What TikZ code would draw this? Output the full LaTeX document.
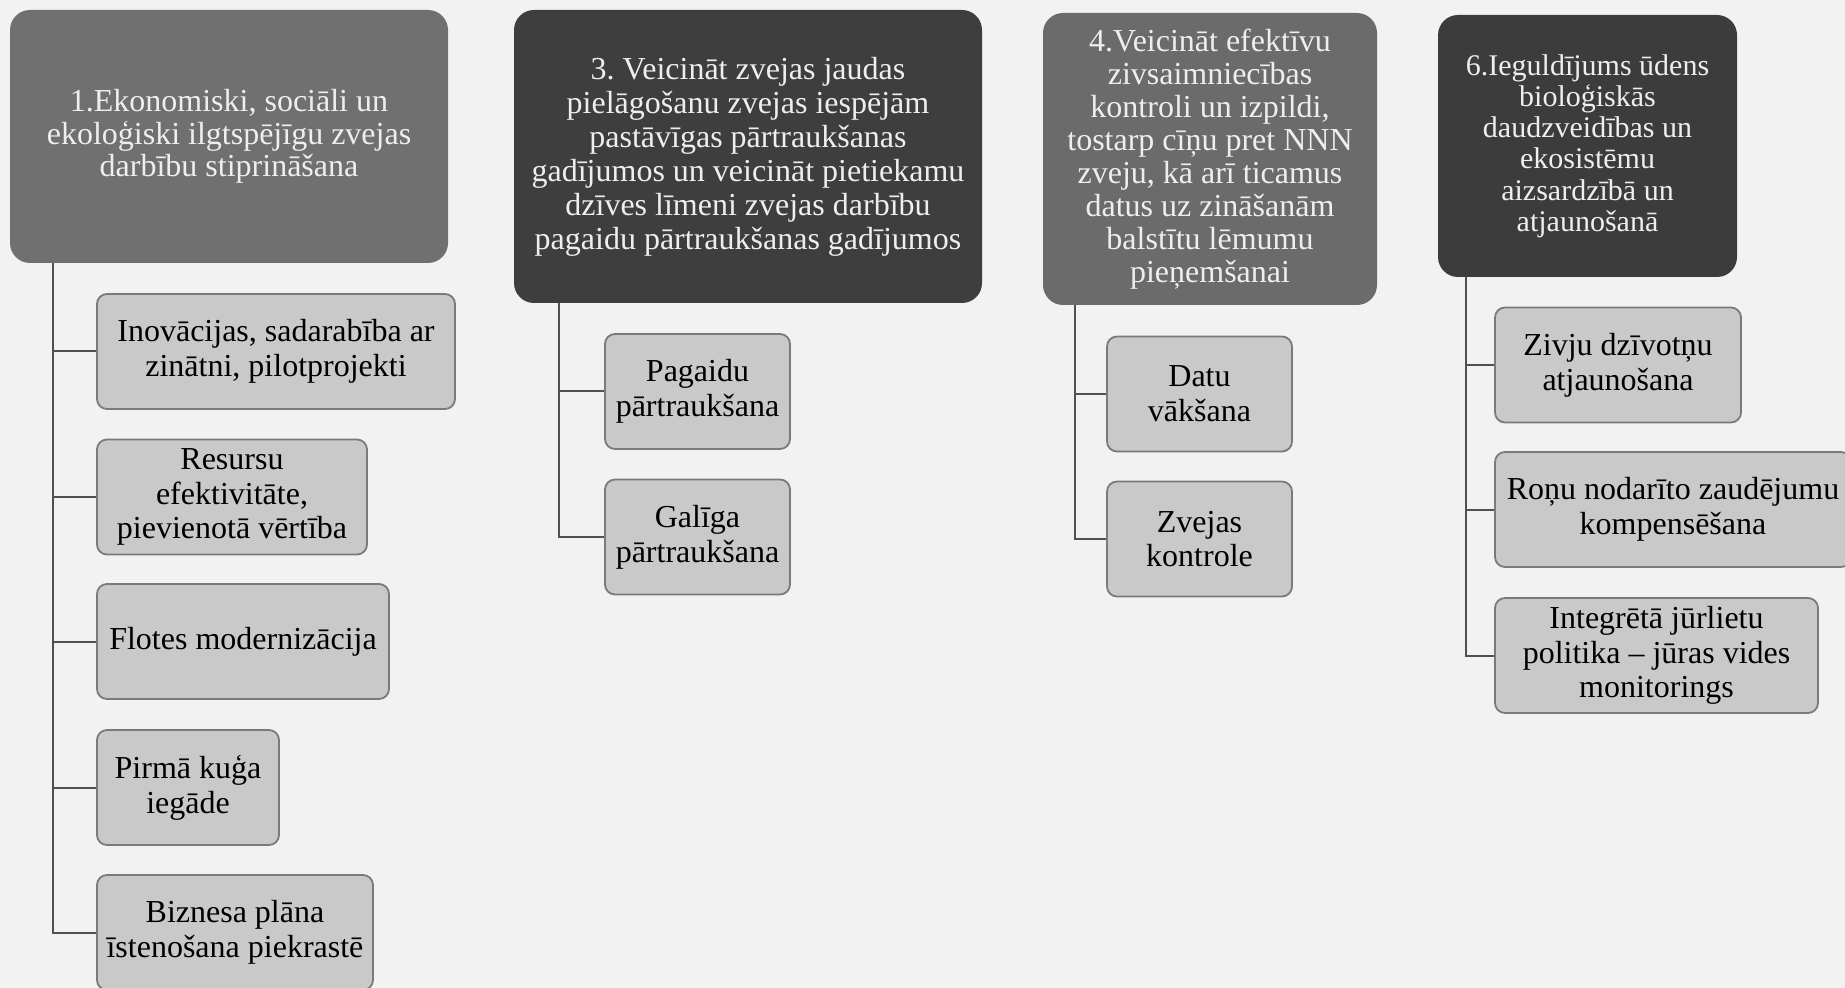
\documentclass[tikz,border=0pt]{standalone}
\usepackage{fontspec}
\setmainfont{Liberation Serif}
\definecolor{bgcol}{HTML}{F2F2F2}
\definecolor{headA}{HTML}{707070}
\definecolor{headB}{HTML}{3E3E3E}
\definecolor{headC}{HTML}{6B6B6B}
\definecolor{headD}{HTML}{3C3C3C}
\definecolor{headtext}{HTML}{EEEEEE}
\definecolor{leaffill}{HTML}{C9C9C9}
\definecolor{leafdraw}{HTML}{7A7A7A}
\definecolor{linecol}{HTML}{505050}
\begin{document}
\begin{tikzpicture}[x=0.5pt,y=-0.5pt,
  head/.style={rounded corners=10pt, inner sep=0pt, align=center, text=headtext, draw=none},
  leaf/.style={rounded corners=5pt, fill=leaffill, draw=leafdraw, line width=0.9pt, inner sep=0pt,
    align=center, text=black, minimum height=57.5pt, font=\fontsize{16}{17.4}\selectfont},
  conn/.style={draw=linecol, line width=1pt}]
\fill[bgcol, use as bounding box] (0,0) rectangle (1845,988);

% headers
\node[head, fill=headA, minimum width=219pt, minimum height=126.5pt, font=\fontsize{16}{16.4}\selectfont]
  (h1) at (229,136.5) {1.Ekonomiski, sociāli un\\ekoloģiski ilgtspējīgu zvejas\\darbību stiprināšana};
\node[head, fill=headB, minimum width=234pt, minimum height=146.5pt, font=\fontsize{16}{17}\selectfont]
  (h3) at (748,156.5) {3.\ Veicināt zvejas jaudas\\pielāgošanu zvejas iespējām\\pastāvīgas pārtraukšanas\\gadījumos un veicināt pietiekamu\\dzīves līmeni zvejas darbību\\pagaidu pārtraukšanas gadījumos};
\node[head, fill=headC, minimum width=167pt, minimum height=146pt, font=\fontsize{16}{16.5}\selectfont]
  (h4) at (1210,159) {4.Veicināt efektīvu\\zivsaimniecības\\kontroli un izpildi,\\tostarp cīņu pret NNN\\zveju, kā arī ticamus\\datus uz zināšanām\\balstītu lēmumu\\pieņemšanai};
\node[head, fill=headD, minimum width=149.5pt, minimum height=131pt, font=\fontsize{15}{15.6}\selectfont]
  (h6) at (1587.5,146) {6.Ieguldījums ūdens\\bioloģiskās\\daudzveidības un\\ekosistēmu\\aizsardzībā un\\atjaunošanā};

% leaves of 1
\node[leaf, minimum width=179pt] (c1a) at (276,351.5) {Inovācijas, sadarabība ar\\zinātni, pilotprojekti};
\node[leaf, minimum width=135pt] (c1b) at (232,497) {Resursu\\efektivitāte,\\pievienotā vērtība};
\node[leaf, minimum width=146pt] (c1c) at (243,641.5) {Flotes modernizācija};
\node[leaf, minimum width=91pt] (c1d) at (188,787.5) {Pirmā kuģa\\iegāde};
\node[leaf, minimum width=138pt] (c1e) at (235,932.5) {Biznesa plāna\\īstenošana piekrastē};

% leaves of 3
\node[leaf, minimum width=92.5pt] (c3a) at (697.5,391.5) {Pagaidu\\pārtraukšana};
\node[leaf, minimum width=92.5pt] (c3b) at (697.5,537) {Galīga\\pārtraukšana};

% leaves of 4
\node[leaf, minimum width=92.5pt] (c4a) at (1199.5,394) {Datu\\vākšana};
\node[leaf, minimum width=92.5pt] (c4b) at (1199.5,539) {Zvejas\\kontrole};

% leaves of 6
\node[leaf, minimum width=123pt] (c6a) at (1618,365) {Zivju dzīvotņu\\atjaunošana};
\node[leaf, minimum width=178pt] (c6b) at (1673,509.5) {Roņu nodarīto zaudējumu\\kompensēšana};
\node[leaf, minimum width=161.5pt] (c6c) at (1656.5,655.5) {Integrētā jūrlietu\\politika – jūras vides\\monitorings};

% connectors
\path (h1.south west) ++(21.75pt,0) coordinate (s1);
\path (h3.south west) ++(22.75pt,0) coordinate (s3);
\path (h4.south west) ++(16pt,0) coordinate (s4);
\path (h6.south west) ++(14pt,0) coordinate (s6);
\foreach \c in {c1a,c1b,c1c,c1d,c1e} {\draw[conn] (s1) |- (\c.west);}
\foreach \c in {c3a,c3b} {\draw[conn] (s3) |- (\c.west);}
\foreach \c in {c4a,c4b} {\draw[conn] (s4) |- (\c.west);}
\foreach \c in {c6a,c6b,c6c} {\draw[conn] (s6) |- (\c.west);}
\end{tikzpicture}
\end{document}
